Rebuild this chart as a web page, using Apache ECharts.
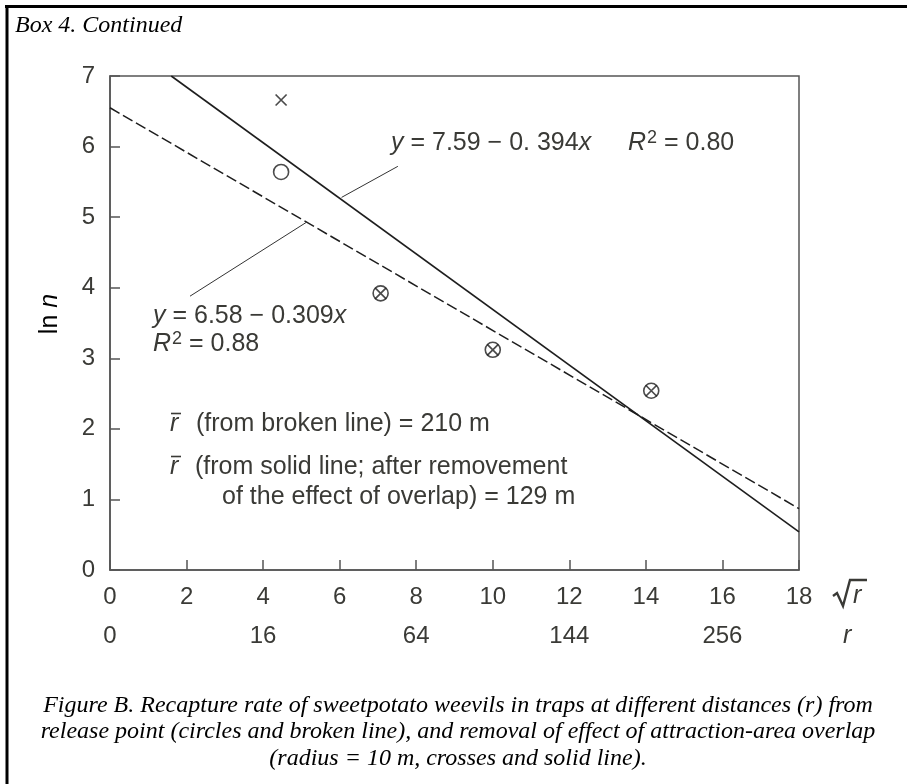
<!DOCTYPE html>
<html>
<head>
<meta charset="utf-8">
<script src="https://cdn.jsdelivr.net/npm/echarts@6/dist/echarts.min.js"></script>
<style>
html,body{margin:0;padding:0;background:#fff;}
#chart{width:907px;height:784px;}
</style>
</head>
<body>
<div id="chart"></div>
<script>
// ---- data ----
var sqrtRTicks = [0, 2, 4, 6, 8, 10, 12, 14, 16, 18];
var rTickLabels = ['0', '16', '64', '144', '256'];
var yTicks = [0, 1, 2, 3, 4, 5, 6, 7];
// observed recapture (circles)
var circlePoints = [[4.47, 5.64], [7.07, 3.92], [10.0, 3.12], [14.14, 2.54]];
// after removal of overlap effect (crosses)
var crossPoints = [[4.47, 6.66], [7.07, 3.92], [10.0, 3.12], [14.14, 2.54]];
// regression lines
var brokenLine = [[0, 6.55], [18, 0.87]];
var solidLine = [[1.6, 7.0], [18, 0.54]];
// leader lines of the equation labels
var leaderLower = [[2.09, 3.88], [5.14, 4.93]];
var leaderUpper = [[6.05, 5.28], [7.52, 5.72]];

var TXT = '#3a3a36';
var INK = '#1e1e1e';
var AX = '#555555';
var SANS = '"Liberation Sans", Arial, sans-serif';
var SERIF = '"Liberation Serif", "Times New Roman", serif';
var FS = 25;

var chart = echarts.init(document.getElementById('chart'), null, {renderer: 'canvas'});

var richEq = {
  n: {fontSize: FS, fontFamily: SANS, color: TXT},
  i: {fontSize: FS, fontFamily: SANS, fontStyle: 'italic', color: TXT},
  sup: {fontSize: 18, fontFamily: SANS, color: TXT, verticalAlign: 'top', padding: [0, 0, 10, 1]}
};

function eqText(x, y, txt) {
  return {type: 'text', x: x, y: y, style: {text: txt, rich: richEq, font: FS + 'px ' + SANS, fill: TXT, verticalAlign: 'middle'}};
}
function plainText(x, y, txt) {
  return {type: 'text', x: x, y: y, style: {text: txt, font: FS + 'px ' + SANS, fill: TXT, verticalAlign: 'middle'}};
}
function rbar(x, y) {
  return [
    {type: 'text', x: x, y: y, style: {text: 'r', font: 'italic ' + FS + 'px ' + SANS, fill: TXT, verticalAlign: 'middle'}},
    {type: 'line', shape: {x1: x + 1, y1: y - 10.5, x2: x + 11, y2: y - 10.5}, style: {stroke: TXT, lineWidth: 1.6}}
  ];
}

var graphics = [
  // frame of the box
  {type: 'line', shape: {x1: 5, y1: 6.5, x2: 907, y2: 6.5}, style: {stroke: '#000', lineWidth: 3}},
  {type: 'line', shape: {x1: 7, y1: 5, x2: 7, y2: 784}, style: {stroke: '#000', lineWidth: 3}},
  {type: 'text', x: 15, y: 26, style: {text: 'Box 4. Continued', font: 'italic 24px ' + SERIF, fill: '#000', verticalAlign: 'middle'}},
  // equations
  eqText(391, 143, '{i|y}{n| = 7.59 − 0. 394}{i|x}'),
  eqText(628, 143, '{i|R}{sup|2}{n| = 0.80}'),
  eqText(153, 316, '{i|y}{n| = 6.58 − 0.309}{i|x}'),
  eqText(153, 344, '{i|R}{sup|2}{n| = 0.88}'),
  plainText(196, 424, '(from broken line) = 210 m'),
  plainText(195, 467, '(from solid line; after removement'),
  plainText(222, 497, 'of the effect of overlap) = 129 m'),
  // y axis title
  {type: 'text', x: 50, y: 314, rotation: Math.PI / 2, style: {
    text: '{n|ln }{i|n}', align: 'center', verticalAlign: 'middle',
    rich: {n: {fontSize: 25, fontFamily: SANS, color: TXT}, i: {fontSize: 25, fontFamily: SANS, fontStyle: 'italic', color: TXT}}}},
  // axis names: radical sign drawn as a stroke, then italic r
  {type: 'polyline', shape: {points: [[833, 596], [837, 593], [843, 606], [850, 580], [867, 580]]},
    style: {stroke: TXT, lineWidth: 2.4, fill: null, lineJoin: 'miter'}},
  {type: 'text', x: 853, y: 596, style: {text: 'r', font: 'italic ' + FS + 'px ' + SANS, fill: TXT, verticalAlign: 'middle'}},
  {type: 'text', x: 843, y: 636, style: {text: 'r', font: 'italic ' + FS + 'px ' + SANS, fill: TXT, verticalAlign: 'middle'}},
  // caption
  {type: 'text', x: 458, y: 692, style: {
    text: 'Figure B. Recapture rate of sweetpotato weevils in traps at different distances (r) from\nrelease point (circles and broken line), and removal of effect of attraction-area overlap\n(radius = 10 m, crosses and solid line).',
    font: 'italic 24px ' + SERIF, fill: '#000', align: 'center', verticalAlign: 'top', lineHeight: 26.7}}
].concat(rbar(170, 424), rbar(170, 467));

var option = {
  animation: false,
  backgroundColor: '#fff',
  grid: {left: 110, right: 108, top: 76, bottom: 214, show: true, borderColor: AX, borderWidth: 1.5, backgroundColor: 'transparent'},
  xAxis: [{
    type: 'value', min: sqrtRTicks[0], max: sqrtRTicks[sqrtRTicks.length - 1], interval: sqrtRTicks[1] - sqrtRTicks[0],
    position: 'bottom',
    axisLine: {show: true, lineStyle: {color: AX, width: 1.5}},
    axisTick: {show: true, inside: true, length: 10, lineStyle: {color: AX, width: 1.5}},
    axisLabel: {margin: 15, fontSize: 24, fontFamily: SANS, color: TXT},
    splitLine: {show: false}
  }, {
    type: 'value', min: 0, max: 18, interval: 4, position: 'bottom', offset: 39,
    axisLine: {show: false}, axisTick: {show: false}, splitLine: {show: false},
    axisLabel: {margin: 15, fontSize: 24, fontFamily: SANS, color: TXT, showMaxLabel: false,
      formatter: function (v) { var k = Math.round(v / 4); return (Math.abs(v - k * 4) < 1e-6 && rTickLabels[k] !== undefined) ? rTickLabels[k] : ''; }}
  }],
  yAxis: {
    type: 'value', min: yTicks[0], max: yTicks[yTicks.length - 1], interval: 1,
    axisLine: {show: true, lineStyle: {color: AX, width: 1.5}},
    axisTick: {show: true, inside: true, length: 10, lineStyle: {color: AX, width: 1.5}},
    axisLabel: {margin: 15, fontSize: 24, fontFamily: SANS, color: TXT},
    splitLine: {show: false}
  },
  series: [
    {type: 'line', data: brokenLine, symbol: 'none', silent: true,
      lineStyle: {color: INK, width: 1.5, type: [11, 4]}},
    {type: 'line', data: solidLine, symbol: 'none', silent: true,
      lineStyle: {color: INK, width: 1.6}},
    {type: 'line', data: leaderLower, symbol: 'none', silent: true,
      lineStyle: {color: '#333', width: 1}},
    {type: 'line', data: leaderUpper, symbol: 'none', silent: true,
      lineStyle: {color: '#333', width: 1}},
    {type: 'scatter', data: circlePoints, symbol: 'circle', symbolSize: 15, z: 5,
      itemStyle: {color: 'rgba(0,0,0,0)', borderColor: INK, borderWidth: 1.6}},
    {type: 'scatter', data: crossPoints, symbol: 'path://M0,0L10,10M10,0L0,10', symbolSize: 11, z: 6,
      itemStyle: {color: 'rgba(0,0,0,0)', borderColor: INK, borderWidth: 1.7}}
  ],
  graphic: graphics
};
chart.setOption(option);
</script>
</body>
</html>
